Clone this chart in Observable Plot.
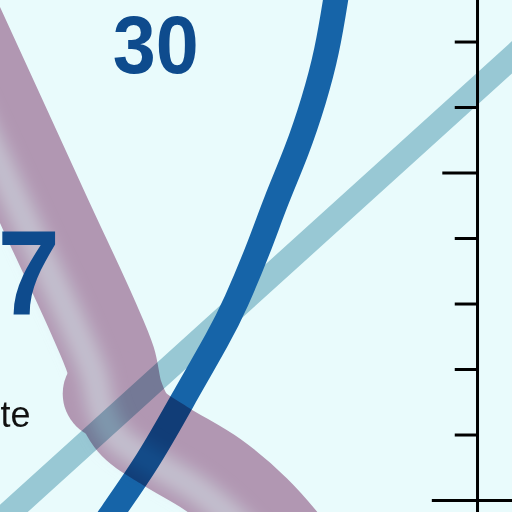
<!DOCTYPE html>
<html>
<head>
<meta charset="utf-8">
<script src="https://cdn.jsdelivr.net/npm/d3@7"></script>
<script src="https://cdn.jsdelivr.net/npm/@observablehq/plot@0.6"></script>
<style>
  html, body { margin: 0; padding: 0; background: #e9fbfc; }
  #chart { width: 512px; height: 512px; overflow: hidden; }
</style>
</head>
<body>
<div id="chart"></div>
<script>
// one unit = one tick step on the vertical axis
var yTicks = [1, 2, 3, 4, 5, 6, 7];

// steep dark blue curve
var steepX = [-5.756, -5.573, -5.038, -4.504, -3.985, -3.679, -3.359, -3.069, -2.763, -2.504, -2.305, -2.168, -2.122];
var steepY = [-0.458, -0.183, 0.611, 1.527, 2.443, 3.053, 3.817, 4.580, 5.344, 6.107, 6.870, 7.634, 7.939];

// straight light blue line
var straightX = [-7.74, 0.96];
var straightY = [-0.72, 7.16];

// wide mauve band, with its knee
var bandX = [-8.23, -6.60, -5.88, -5.60, -5.48, -5.27, -4.78, -4.02, -3.389, -2.855, -2.427];
var bandY = [7.94, 4.38, 2.82, 2.14, 1.60, 1.19, 0.84, 0.38, -0.153, -0.763, -1.374];
var kneeX = [-5.63];
var kneeY = [1.63];

// labels: text, width it is squeezed to
var labels = [["30", 86], ["07", 125], ["te", null]];

function pts(xs, ys) {
    return xs.map(function (x, i) { return { x: x, y: ys[i] }; });
}

var bandColor = "#c29ab4";
var numFont = "Liberation Sans, Arial, sans-serif";

var chart = Plot.plot({
    width: 512,
    height: 512,
    margin: 0,
    x: { domain: [-7.282, 0.534], axis: null },
    y: { domain: [-0.183, 7.634], axis: null },
    style: { background: "#e9fbfc" },
    marks: [
        Plot.line(pts(straightX, straightY), { x: "x", y: "y", stroke: "#98c8d4", strokeWidth: 24, clip: true }),
        Plot.line(pts(steepX, steepY), { x: "x", y: "y", curve: "natural", stroke: "#1664a8", strokeWidth: 25, clip: true }),
        Plot.line(pts(bandX, bandY), { x: "x", y: "y", curve: "catmull-rom", stroke: bandColor, strokeWidth: 90, clip: true }),
        Plot.dot(pts(kneeX, kneeY), { x: "x", y: "y", r: 46, fill: bandColor, stroke: "none" }),
        Plot.line(pts(bandX, bandY), { x: "x", y: "y", curve: "catmull-rom", stroke: "#dccfdb", strokeWidth: 28, strokeOpacity: 0.75, dx: -17, dy: 14, clip: true }),
        Plot.ruleX([0], { stroke: "#000", strokeWidth: 3 }),
        Plot.ruleY([0], { x1: -0.69, x2: 0.6, stroke: "#000", strokeWidth: 3 }),
        Plot.ruleY(yTicks, { x1: function (d) { return d === 5 ? -0.53 : -0.34; }, x2: 0, stroke: "#000", strokeWidth: 3 }),
        Plot.text([labels[0]], { x: -5.57, y: 6.52, text: function (d) { return d[0]; }, textAnchor: "start", lineAnchor: "bottom", fontSize: 82, fontWeight: "bold", fontFamily: numFont, fill: "#0e4b8d" }),
        Plot.text([labels[1]], { x: -6.374, y: 2.855, text: function (d) { return d[0]; }, textAnchor: "end", lineAnchor: "bottom", fontSize: 120, fontWeight: "bold", fontFamily: numFont, fill: "#0e4b8d" }),
        Plot.text([labels[2]], { x: -6.824, y: 1.115, text: function (d) { return d[0]; }, textAnchor: "end", lineAnchor: "bottom", fontSize: 36, fontFamily: "Liberation Sans, Arial, sans-serif", fill: "#111" })
    ]
});

var svg = d3.select(chart);
var groups = svg.selectAll(":scope > g").nodes();
var lines = groups.filter(function (g) { return g.getAttribute("aria-label") === "line"; });
var dots = groups.filter(function (g) { return g.getAttribute("aria-label") === "dot"; });

// soft edge for the highlight stripe
svg.append("defs").append("filter").attr("id", "soft")
    .attr("x", "-20%").attr("y", "-20%").attr("width", "140%").attr("height", "140%")
    .append("feGaussianBlur").attr("stdDeviation", 8);
d3.select(lines[3]).attr("filter", "url(#soft)");

// band pieces multiply over the lines as one shape
var wrap = d3.create("svg:g")
    .style("mix-blend-mode", "multiply")
    .style("isolation", "isolate");
lines[2].parentNode.insertBefore(wrap.node(), lines[2]);
[lines[2], dots[0], lines[3]].forEach(function (g) { wrap.node().appendChild(g); });

// squeeze the numbers to the narrow face of the original
svg.selectAll('g[aria-label="text"] text').each(function (d, i) {
    var w = labels[i] && labels[i][1];
    if (w) d3.select(this).attr("textLength", w).attr("lengthAdjust", "spacingAndGlyphs");
});

document.getElementById("chart").append(chart);
</script>
</body>
</html>
